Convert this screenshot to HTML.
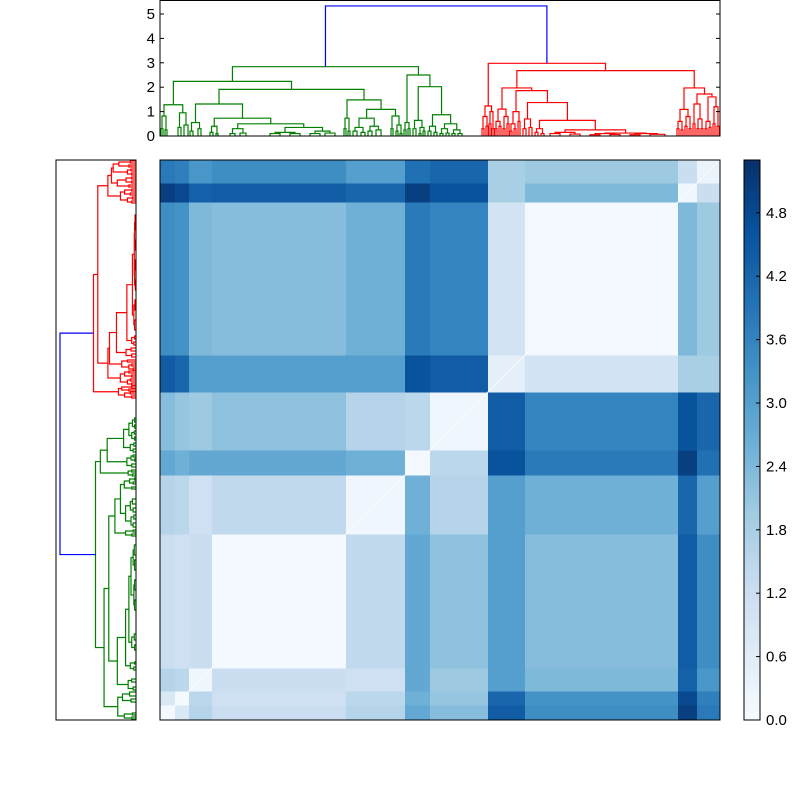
<!DOCTYPE html>
<html><head><meta charset="utf-8"><style>
html,body{margin:0;padding:0;background:#fff;}
svg{display:block;font-family:"Liberation Sans","DejaVu Sans",sans-serif;}
</style></head><body>
<svg id="chart" xmlns="http://www.w3.org/2000/svg" width="800" height="800" viewBox="0 0 800 800">
<rect x="0" y="0" width="800" height="800" fill="#fff"/>
<g id="heat"></g>
<g id="topden"></g>
<g id="leftden"></g>
<g id="cbar"></g>
</svg>
<script>
// ---- data ----
const segments = ['A1','A2','B','C','D','E','F','G','H','I','J'];
const segmentSizes = [15,14,23,134,59,25,58,37,153,19,23];
const distA1 = [0.1,0.8,1.6,1.2,1.6,2.8,2.3,4.4,3.4,5.0,3.8];
const distA2 = [0.8,0.1,1.5,1.1,1.5,2.6,2.1,4.2,3.3,4.8,3.7];
const distB  = [1.6,1.5,0.2,1.2,1.1,2.8,2.0,3.0,2.4,4.3,3.2];
const distC  = [1.2,1.1,1.2,0.1,1.4,2.8,2.2,3.0,2.3,4.4,3.4];
const distD  = [1.6,1.5,1.1,1.4,0.2,2.6,1.6,3.0,2.6,4.2,3.0];
const distE  = [2.8,2.6,2.8,2.8,2.6,0.1,1.5,4.6,3.8,5.0,4.0];
const distF  = [2.3,2.1,2.0,2.2,1.6,1.5,0.2,4.4,3.6,4.6,4.2];
const distG  = [4.4,4.2,3.0,3.0,3.0,4.6,4.4,0.5,1.0,1.8,1.8];
const distH  = [3.4,3.3,2.4,2.3,2.6,3.8,3.6,1.0,0.1,2.4,2.0];
const distI  = [5.0,4.8,4.3,4.4,4.2,5.0,4.6,1.8,2.4,0.2,1.2];
const distJ  = [3.8,3.7,3.2,3.4,3.0,4.0,4.2,1.8,2.0,1.2,0.3];
const distRows = [distA1,distA2,distB,distC,distD,distE,distF,distG,distH,distI,distJ];
const colorbarTicks = [0.0,0.6,1.2,1.8,2.4,3.0,3.6,4.2,4.8];
const dendroTicks = [0,1,2,3,4,5];
const rootHeight = 5.33;
const greenTree = [2.84,
  [2.24,
    [1.28,[0.82,[0.3,1,3],[0.25,5,7]],[0.95,[0.35,18,21],[0.45,24,28]]],
    [1.91,
      [1.31,[0.55,[0.2,30,33],[0.3,38,41]],[0.73,[0.4,[0.15,50,53],[0.1,56,58]],[0.5,[0.3,[0.1,70,75],[0.12,80,86]],[0.35,[0.15,[0.1,110,120],[0.1,130,140]],[0.2,[0.1,150,160],[0.12,165,175]]]]]],
      [1.48,[0.73,[0.3,184,186],[0.2,188,190]],[1.09,[0.73,[0.35,[0.2,193,197],[0.15,201,205]],[0.4,[0.2,208,212],[0.25,216,221]]],[0.82,[0.3,231,233],[0.45,[0.2,236,238],[0.1,240,242]]]]]]],
  [2.5,[0.55,[0.25,244,246],[0.3,248,250]],
    [2.02,[0.64,[0.3,253,256],[0.35,[0.1,259,261],[0.2,263,265]]],[0.87,[0.4,[0.2,268,271],[0.15,274,277]],[0.5,[0.3,[0.1,280,283],[0.12,286,289]],[0.25,[0.1,292,295],[0.1,298,302]]]]]]];
const redTree = [2.98,
  [1.23,[0.8,[0.3,322,324],[0.4,326,328]],[1.0,[0.5,329,331],[0.3,332,334]]],
  [2.68,
    [1.97,[1.1,[0.6,[0.3,335,337],[0.4,339,341]],[0.8,[0.3,343,345],[0.5,347,349]]],
      [1.86,[1.0,[0.5,[0.2,350,352],[0.3,354,356]],[0.6,358,360]],[1.37,[0.7,[0.3,363,366],[0.35,369,372]],[0.64,[0.3,[0.15,375,378],[0.1,381,384]],[0.25,[0.15,[0.1,390,400],[0.08,410,420]],[0.12,[0.1,[0.05,430,440],[0.06,450,460]],[0.1,[0.05,470,480],[0.07,490,505]]]]]]]],
    [1.97,[1.09,[0.6,[0.3,517,519],[0.25,521,523]],[0.8,[0.4,525,527],[0.3,529,531]]],[1.72,[1.31,[0.5,533,535],[0.7,[0.3,537,539],[0.3,541,543]]],[1.6,[0.6,[0.3,545,547],[0.35,549,551]],[1.2,[0.5,553,555],[0.4,557,559]]]]]]];

// ---- helpers ----
const NS='http://www.w3.org/2000/svg';
function mk(tag,parent,attrs){const e=document.createElementNS(NS,tag);for(const k in attrs)e.setAttribute(k,attrs[k]);parent.appendChild(e);return e;}
const blues=['#f7fbff','#deebf7','#c6dbef','#9ecae1','#6baed6','#4292c6','#2171b5','#08519c','#08306b'];
const VMAX=5.3;
function hex(c){return [1,3,5].map(i=>parseInt(c.substr(i,2),16));}
function cmap(v){let t=Math.max(0,Math.min(1,v/VMAX))*(blues.length-1);const i=Math.min(blues.length-2,Math.floor(t));const f=t-i;const a=hex(blues[i]),b=hex(blues[i+1]);return 'rgb('+a.map((x,k)=>Math.round(x+(b[k]-x)*f)).join(',')+')';}
const HX0=160,HY0=160,HS=560;
const total=segmentSizes.reduce((a,b)=>a+b,0);
function colPos(u){return HX0+u/total*HS;}
function rowPos(u){return HY0+HS-u/total*HS;}

// ---- heatmap ----
const heat=document.getElementById('heat');
let starts=[];let acc=0;for(const s of segmentSizes){starts.push(acc);acc+=s;}
for(let r=0;r<segments.length;r++){for(let c=0;c<segments.length;c++){
  const x0=colPos(starts[c]),x1=colPos(starts[c]+segmentSizes[c]);
  const y1=rowPos(starts[r]),y0=rowPos(starts[r]+segmentSizes[r]);
  const cell=mk('rect',heat,{x:x0,y:y0,width:x1-x0+0.5,height:y1-y0+0.5,fill:cmap(distRows[r][c])});
  
  
}}
const diag=mk('line',heat,{x1:HX0,y1:HY0+HS,x2:HX0+HS,y2:HY0,stroke:'#f7fbff','stroke-width':1.2,opacity:0.8});


const hf=mk('rect',heat,{x:HX0,y:HY0,width:HS,height:HS,fill:'none',stroke:'#000','stroke-width':1});



// ---- dendrograms ----
const topG=document.getElementById('topden'),leftG=document.getElementById('leftden');
function topY(h){return 136-h*24.4;}
function topX(u){return colPos(u);}
function leftX(h){return 136-h*14.26;}
function leftY(u){return rowPos(u);}
function drawTree(node,color){
  // returns {pos,h}
  if(typeof node==='number')return {pos:node,h:0};
  const a=drawTree(node[1],color),b=drawTree(node[2],color);const h=node[0];
  link(a,b,h,color);return {pos:(a.pos+b.pos)/2,h:h};
}
function link(a,b,h,color){
  const p=mk('polyline',topG,{points:[topX(a.pos),topY(a.h),topX(a.pos),topY(h),topX(b.pos),topY(h),topX(b.pos),topY(b.h)].join(' '),fill:'none',stroke:color,'stroke-width':1.2});
  
  
  const q=mk('polyline',leftG,{points:[leftX(a.h),leftY(a.pos),leftX(h),leftY(a.pos),leftX(h),leftY(b.pos),leftX(b.h),leftY(b.pos)].join(' '),fill:'none',stroke:color,'stroke-width':1.2});
  
  
}
const gRoot=drawTree(greenTree,'#008000');
const rRoot=drawTree(redTree,'#ff0000');
link(gRoot,rRoot,rootHeight,'#0000ff');

// top frame + ticks
const tf=mk('rect',topG,{x:160,y:0.5,width:560,height:135.5,fill:'none',stroke:'#000','stroke-width':1});


for(const t of dendroTicks){
  const y=topY(t);
  mk('line',topG,{x1:160,y1:y,x2:164,y2:y,stroke:'#000'});
  mk('line',topG,{x1:716,y1:y,x2:720,y2:y,stroke:'#000'});
  const tx=mk('text',topG,{x:155,y:y+5,'text-anchor':'end','font-size':15,fill:'#000'});
  tx.textContent=String(t);
  
  
}
const lf=mk('rect',leftG,{x:56,y:160,width:80,height:560,fill:'none',stroke:'#000','stroke-width':1});



// ---- colorbar ----
const cb=document.getElementById('cbar');
const CBX=744,CBW=16,CBY0=160,CBY1=720;
for(let y=CBY0;y<CBY1;y+=2){
  const v=(CBY1-y-1)/(CBY1-CBY0)*VMAX;
  mk('rect',cb,{x:CBX,y:y,width:CBW,height:2.5,fill:cmap(v)});
}
const cf=mk('rect',cb,{x:CBX,y:CBY0,width:CBW,height:CBY1-CBY0,fill:'none',stroke:'#000','stroke-width':1});


for(const t of colorbarTicks){
  const y=CBY1-t/VMAX*(CBY1-CBY0);
  mk('line',cb,{x1:CBX+CBW-4,y1:y,x2:CBX+CBW,y2:y,stroke:'#000'});
  const tx=mk('text',cb,{x:766,y:y+5,'font-size':15,fill:'#000'});
  tx.textContent=t.toFixed(1);
  
  
}
</script>
</body></html>
